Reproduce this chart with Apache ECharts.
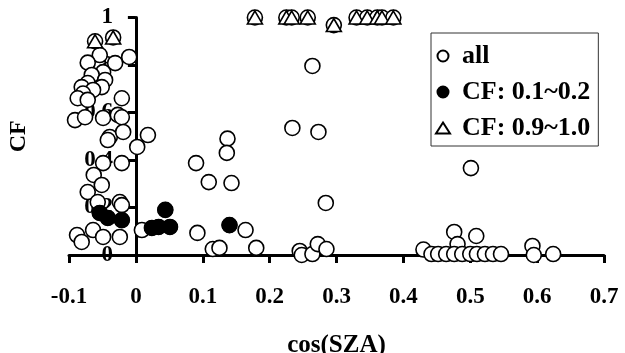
<!DOCTYPE html>
<html>
<head>
<meta charset="utf-8">
<script src="https://cdn.jsdelivr.net/npm/echarts@6/dist/echarts.min.js"></script>
<style>
html,body{margin:0;padding:0;background:#fff;}
#chart{width:625px;height:353px;}
</style>
</head>
<body>
<div id="chart"></div>
<script>
// Open circles ("all" points that are not in the two CF subsets) [cos(SZA), CF]
const allOpen = [
  [-0.054,0.842],[-0.010,0.834],[-0.031,0.808],[-0.072,0.810],[-0.049,0.770],
  [-0.066,0.758],[-0.046,0.737],[-0.072,0.724],[-0.081,0.707],[-0.051,0.707],
  [-0.064,0.695],[-0.079,0.680],[-0.087,0.660],[-0.072,0.653],[-0.021,0.660],
  [-0.091,0.568],[-0.076,0.580],[-0.049,0.577],[-0.027,0.590],[-0.021,0.580],
  [-0.039,0.497],[-0.019,0.518],[0.018,0.505],[-0.042,0.484],[0.002,0.455],
  [-0.049,0.387],[-0.021,0.387],[-0.063,0.337],[-0.051,0.295],[-0.072,0.265],
  [-0.057,0.223],[-0.024,0.223],[-0.021,0.210],[-0.088,0.084],[-0.081,0.055],
  [-0.064,0.105],[-0.049,0.076],[-0.024,0.076],[0.009,0.105],
  [0.090,0.387],[0.109,0.307],[0.143,0.303],[0.137,0.490],[0.136,0.430],
  [0.284,0.219],[0.092,0.093],[0.164,0.105],[0.115,0.025],[0.125,0.030],
  [0.180,0.030],[0.245,0.017],[0.248,0.000],[0.264,0.004],[0.272,0.046],
  [0.285,0.025],[0.234,0.535],[0.273,0.518],[0.264,0.796],
  [0.501,0.366],[0.476,0.097],[0.509,0.080],[0.481,0.046],[0.430,0.023],
  [0.442,0.004],[0.452,0.004],[0.464,0.004],[0.476,0.004],[0.488,0.004],
  [0.500,0.004],[0.510,0.004],[0.522,0.004],[0.534,0.004],[0.546,0.004],
  [0.593,0.038],[0.595,0.000],[0.624,0.004]
];
// CF 0.1~0.2 subset
const cfLow = [
  [-0.054,0.177],[-0.042,0.156],[-0.021,0.147],[0.024,0.114],[0.034,0.118],
  [0.044,0.190],[0.051,0.118],[0.140,0.126]
];
// CF 0.9~1.0 subset
const cfHigh = [
  [-0.061,0.900],[-0.034,0.916],[0.178,1.000],[0.225,1.000],[0.233,1.000],
  [0.257,1.000],[0.296,0.968],[0.330,1.000],[0.346,1.000],[0.361,1.000],
  [0.368,1.000],[0.385,1.000]
];
const seriesNames = ['all','CF: 0.1~0.2','CF: 0.9~1.0'];
const xTitle = 'cos(SZA)';
const yTitle = 'CF';

const FONT = '"Liberation Serif","Times New Roman",serif';
const chart = echarts.init(document.getElementById('chart'));
chart.setOption({
  animation:false,
  backgroundColor:'#fff',
  grid:{left:69,right:21,top:17.5,bottom:98,containLabel:false,outerBoundsMode:'none'},
  xAxis:{
    type:'value',min:-0.1,max:0.7,interval:0.1,
    name:xTitle,nameLocation:'middle',nameGap:78,
    nameTextStyle:{fontFamily:FONT,fontWeight:'bold',fontSize:25,color:'#000'},
    axisLine:{show:true,onZero:false,lineStyle:{color:'#000',width:3,type:'solid',opacity:1}},
    axisTick:{show:true,length:8,lineStyle:{color:'#000',width:3,opacity:1}},
    axisLabel:{margin:31,fontFamily:FONT,fontWeight:'bold',fontSize:23,color:'#000',
      formatter:v=>String(Math.round(v*10)/10)},
    splitLine:{show:false}
  },
  yAxis:{
    type:'value',min:0,max:1,interval:0.2,
    name:yTitle,nameLocation:'middle',nameGap:38,nameRotate:90,
    nameTextStyle:{fontFamily:FONT,fontWeight:'bold',fontSize:24,color:'#000'},
    axisLine:{show:true,onZero:true,lineStyle:{color:'#000',width:3,type:'solid',opacity:1}},
    axisTick:{show:true,length:8,lineStyle:{color:'#000',width:3,opacity:1}},
    axisLabel:{margin:-44,fontFamily:FONT,fontWeight:'bold',fontSize:23,color:'#000',
      formatter:v=>String(Math.round(v*10)/10)},
    splitLine:{show:false}
  },
  legend:{
    left:431,top:33,orient:'vertical',
    padding:[10,8,5,4],itemGap:10,itemWidth:14,itemHeight:11,
    borderColor:'#333',borderWidth:1,backgroundColor:'#fff',
    textStyle:{fontFamily:FONT,fontWeight:'bold',fontSize:26,color:'#000',padding:[0,0,0,7]},
    data:seriesNames
  },
  series:[
    {name:seriesNames[0],type:'scatter',symbol:'circle',symbolSize:15,
     itemStyle:{color:'#fff',borderColor:'#000',borderWidth:1.6,opacity:1},
     data:allOpen.concat(cfLow,cfHigh),z:2},
    {name:seriesNames[1],type:'scatter',symbol:'circle',symbolSize:15,
     itemStyle:{color:'#000',borderColor:'#000',borderWidth:1,opacity:1},
     data:cfLow,z:3},
    {name:seriesNames[2],type:'scatter',symbol:'triangle',symbolSize:[15,13],
     itemStyle:{color:'#fff',borderColor:'#000',borderWidth:1.6,opacity:1},
     data:cfHigh,z:4}
  ]
});
</script>
</body>
</html>
